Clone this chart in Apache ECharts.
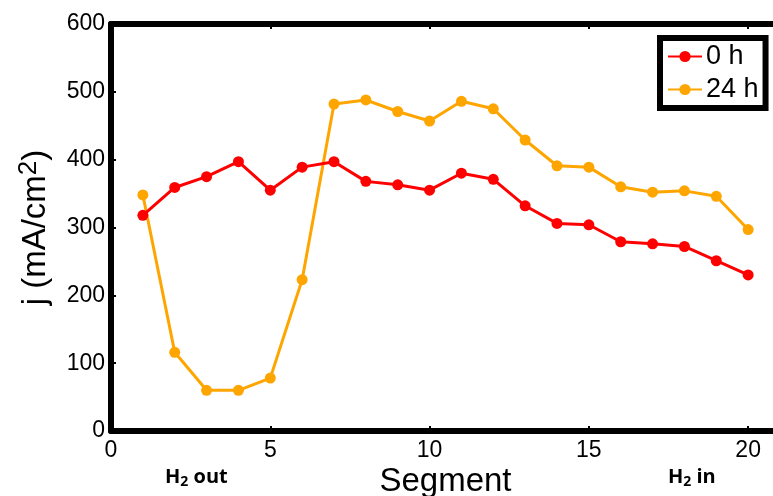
<!DOCTYPE html>
<html>
<head>
<meta charset="utf-8">
<script src="https://cdn.jsdelivr.net/npm/echarts@6/dist/echarts.min.js"></script>
<style>
html,body{margin:0;padding:0;background:#fff;}
#c{width:773px;height:496px;}
</style>
</head>
<body>
<div id="c"></div>
<script>
const segments = [1,2,3,4,5,6,7,8,9,10,11,12,13,14,15,16,17,18,19,20];
const seriesNames = ['0 h', '24 h'];
const j0h = [318,359,375,397,355,389,397,368,363,355,380,371,332,306,304,279,276,272,251,230];
const j24h = [348,116,60,60,78,223,482,488,471,457,486,475,429,391,389,360,352,354,346,297];
const yTicks = [0,100,200,300,400,500,600];
const xTicks = [0,5,10,15,20];

const FONT = '"Liberation Sans", Arial, sans-serif';
const BFONT = '"Open Sans", sans-serif';
const chart = echarts.init(document.getElementById('c'), null, {renderer:'canvas'});

function pairs(vals){ return segments.map((s,i)=>[s, vals[i]]); }

const axisLineStyle = {show:true, lineStyle:{color:'#000', width:6}};
const tickStyle = {show:true, inside:true, length:5, lineStyle:{color:'#000', width:2}};
const noteRich = {
  b:{fontFamily:BFONT, fontWeight:'bold', fontSize:20, fill:'#000', lineHeight:24},
  sub:{fontFamily:BFONT, fontWeight:'bold', fontSize:14, fill:'#000', padding:[10,0,0,0], lineHeight:24}
};

chart.setOption({
  animation:false,
  backgroundColor:'#fff',
  grid:{left:111, right:-7, top:24, bottom:65, containLabel:false, outerBoundsMode:'none'},
  legend:{
    left:660, top:38,
    orient:'vertical',
    data:seriesNames,
    borderColor:'#000', borderWidth:6, borderRadius:0,
    backgroundColor:'#fff',
    padding:[5,7,5,7],
    itemWidth:34, itemHeight:14, itemGap:6,
    textStyle:{fontFamily:FONT, fontSize:27, color:'#000', padding:[0,0,0,-1]}
  },
  xAxis:[{
    type:'value', position:'bottom', min:0, max:21, interval:5,
    axisLine:axisLineStyle, axisTick:tickStyle, splitLine:{show:false},
    axisLabel:{fontFamily:FONT, fontSize:23, color:'#000', margin:8,
      formatter:v=> (xTicks.indexOf(v)>=0 ? String(v) : '')},
    name:'Segment', nameLocation:'middle', nameGap:34, nameMoveOverlap:false,
    nameTextStyle:{fontFamily:FONT, fontSize:33, color:'#000'}
  },{
    type:'value', position:'top', min:0, max:21, interval:5,
    axisLine:axisLineStyle, axisTick:tickStyle, splitLine:{show:false},
    axisLabel:{show:false}
  }],
  yAxis:[{
    type:'value', min:0, max:600, interval:100,
    axisLine:axisLineStyle, axisTick:tickStyle, splitLine:{show:false},
    axisLabel:{fontFamily:FONT, fontSize:23, color:'#000', margin:6,
      formatter:v=> (yTicks.indexOf(v)>=0 ? String(v) : '')},
    name:'{a|j (mA/cm}{s|2}{a|)}', nameLocation:'middle', nameGap:55, nameRotate:90, nameMoveOverlap:false,
    nameTextStyle:{fontFamily:FONT, color:'#000',
      rich:{a:{fontFamily:FONT, fontSize:33, color:'#000', lineHeight:40},
            s:{fontFamily:FONT, fontSize:26, color:'#000', verticalAlign:'top', lineHeight:40, padding:[0,0,30,0]}}}
  }],
  series:[{
    name:seriesNames[0], type:'line', data:pairs(j0h),
    symbol:'circle', symbolSize:11, color:'#FF0000',
    lineStyle:{width:3, color:'#FF0000'}, itemStyle:{color:'#FF0000'}, z:3
  },{
    name:seriesNames[1], type:'line', data:pairs(j24h),
    symbol:'circle', symbolSize:11, color:'#FFA500',
    lineStyle:{width:3, color:'#FFA500'}, itemStyle:{color:'#FFA500'}, z:2
  }],
  graphic:[{
    type:'text', left:165, top:465,
    style:{text:'{b|H}{sub|2}{b| out}', rich:noteRich}
  },{
    type:'text', left:668, top:465,
    style:{text:'{b|H}{sub|2}{b| in}', rich:noteRich}
  }]
});
</script>
</body>
</html>
